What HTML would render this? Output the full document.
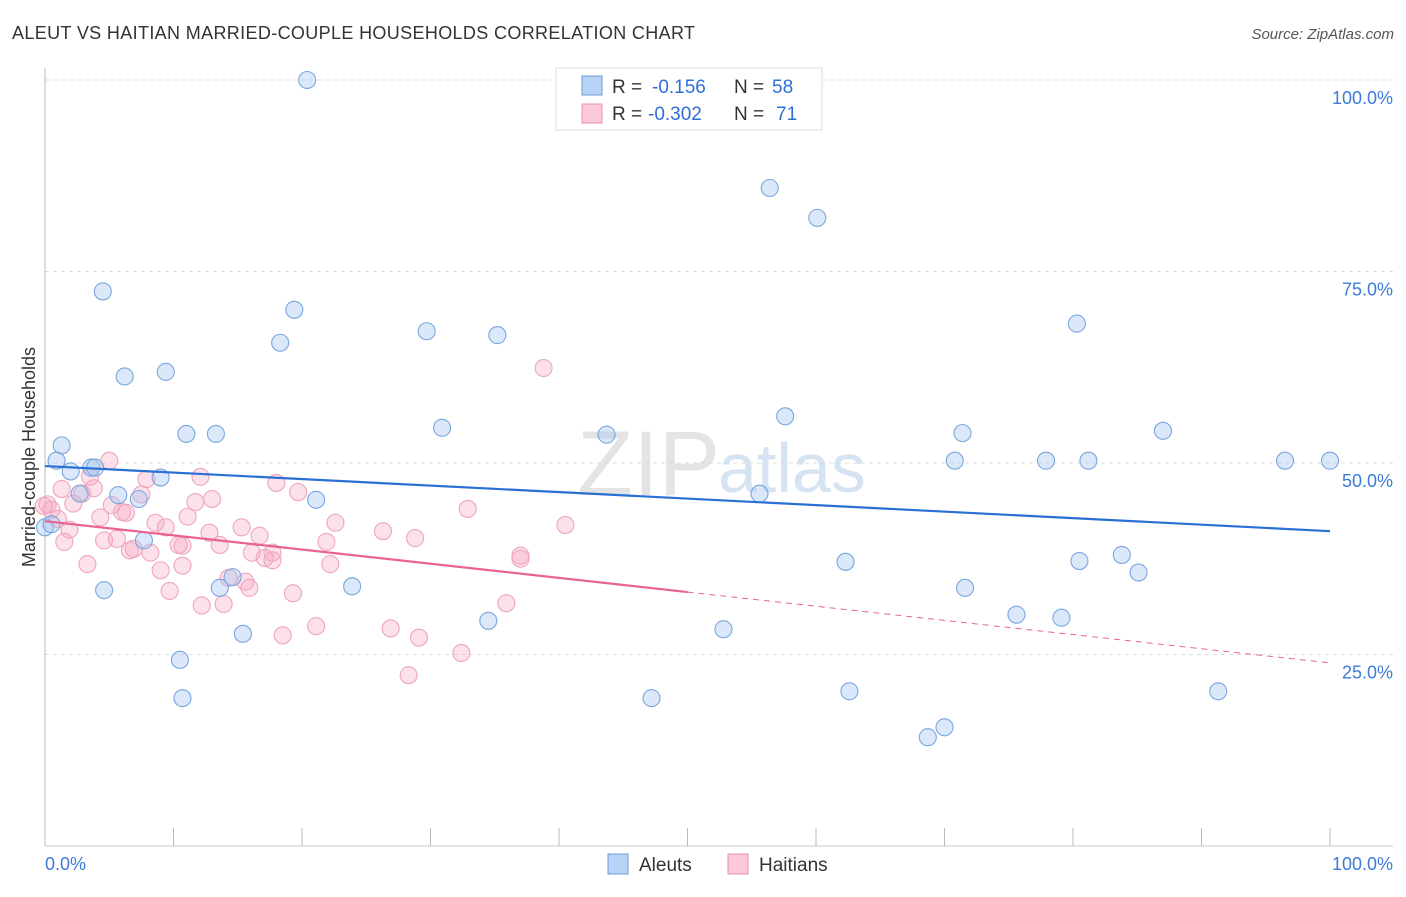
<!DOCTYPE html>
<html><head><meta charset="utf-8"><style>
body{margin:0;background:#fff;font-family:"Liberation Sans",sans-serif;}
svg text{font-family:"Liberation Sans",sans-serif;}
</style></head><body>
<svg id="c" width="1406" height="892">
<text x="12" y="39" font-size="18" fill="#333" textLength="683" lengthAdjust="spacing">ALEUT VS HAITIAN MARRIED-COUPLE HOUSEHOLDS CORRELATION CHART</text>
<text x="1394" y="39" font-size="15" fill="#555" font-style="italic" text-anchor="end">Source: ZipAtlas.com</text>
<text x="35" y="457" font-size="18" fill="#333" transform="rotate(-90 35 457)" text-anchor="middle">Married-couple Households</text>
<text x="720" y="495" font-size="92" fill="#e4e4e4" text-anchor="end" font-family="Liberation Serif">ZIP</text>
<text x="718" y="492" font-size="70" fill="#d6e3f3">atlas</text>
<g id="grid"></g><g id="pts"></g><g id="trend"></g>
<g>
<rect x="556" y="68" width="266" height="62" fill="#fff" stroke="#ddd"/>
<rect x="582" y="76" width="20" height="19" fill="#b8d3f5" stroke="#6c9bd8"/>
<rect x="582" y="104" width="20" height="19" fill="#fbc9d8" stroke="#e890ab"/>
<text x="612" y="93" font-size="19" fill="#333">R =</text>
<text x="652" y="93" font-size="19" fill="#2e6fd6">-0.156</text>
<text x="734" y="93" font-size="19" fill="#333">N =</text>
<text x="772" y="93" font-size="19" fill="#2e6fd6">58</text>
<text x="612" y="120" font-size="19" fill="#333">R =</text>
<text x="648" y="120" font-size="19" fill="#2e6fd6">-0.302</text>
<text x="734" y="120" font-size="19" fill="#333">N =</text>
<text x="776" y="120" font-size="19" fill="#2e6fd6">71</text>
</g>
<g>
<rect x="608" y="854" width="20" height="20" fill="#b8d3f5" stroke="#6c9bd8"/>
<text x="639" y="871" font-size="19" fill="#333">Aleuts</text>
<rect x="728" y="854" width="20" height="20" fill="#fbc9d8" stroke="#e890ab"/>
<text x="759" y="871" font-size="19" fill="#333">Haitians</text>
</g>
<text x="45" y="870" font-size="18" fill="#3d7bd9">0.0%</text>
<text x="1393" y="870" font-size="18" fill="#3d7bd9" text-anchor="end">100.0%</text>
</svg>
<script>
const yTicks=[25,50,75,100];
const yTickLabels=["25.0%","50.0%","75.0%","100.0%"];
const xTicks=[0,10,20,30,40,50,60,70,80,90,100];
const aleutX=[20.4,56.4,60.1,4.5,19.4,18.3,29.7,35.2,6.2,9.4,80.3,57.6,1.3,0.9,2.0,3.6,11.0,13.3,30.9,43.7,71.4,87.0,70.8,77.9,81.2,96.5,100,9.0,5.7,2.7,7.3,21.1,55.6,0,7.7,4.6,13.6,14.6,23.9,62.3,80.5,83.8,85.1,71.6,34.5,75.6,79.1,15.4,52.8,10.5,10.7,47.2,62.6,91.3,68.7,70.0,3.9,0.5];
const aleutY=[100,85.9,82.0,72.4,70.0,65.7,67.2,66.7,61.3,61.9,68.2,56.1,52.3,50.3,48.9,49.4,53.8,53.8,54.6,53.7,53.9,54.2,50.3,50.3,50.3,50.3,50.3,48.1,45.8,46.0,45.3,45.2,46.0,41.6,39.9,33.4,33.7,35.1,33.9,37.1,37.2,38.0,35.7,33.7,29.4,30.2,29.8,27.7,28.3,24.3,19.3,19.3,20.2,20.2,14.2,15.5,49.4,42.0];
const haitiX=[38.8,5.0,12.1,7.9,3.5,1.3,2.9,3.8,19.7,18.0,13.0,11.7,7.5,2.2,0.2,0.5,5.2,6.0,6.3,4.3,1.0,11.1,22.6,32.9,40.5,8.6,9.4,15.3,12.8,16.7,1.9,1.5,4.6,5.6,6.6,6.9,8.2,10.7,10.4,13.6,16.1,17.7,21.9,26.3,28.8,37.0,3.3,10.7,9.0,17.1,17.7,22.2,37.0,14.3,15.6,15.9,9.7,19.3,12.2,13.9,35.9,21.1,18.5,26.9,29.1,32.4,28.3,-0.1];
const haitiY=[62.4,50.3,48.2,47.9,48.2,46.6,46.0,46.7,46.2,47.4,45.3,44.9,45.9,44.7,44.6,43.9,44.5,43.6,43.5,42.9,42.7,43.0,42.2,44.0,41.9,42.2,41.6,41.6,40.9,40.5,41.3,39.7,39.9,40.1,38.6,38.8,38.3,39.2,39.3,39.3,38.3,38.3,39.7,41.1,40.2,37.9,36.8,36.6,36.0,37.6,37.3,36.8,37.5,35.0,34.5,33.7,33.3,33.0,31.4,31.6,31.7,28.7,27.5,28.4,27.2,25.2,22.3,44.4];
const aleutTrend=[49.6,41.1];
const haitiTrend=[42.4,23.9];
const NS="http://www.w3.org/2000/svg";
const X=v=>45+v*12.85, Y=v=>846-v*7.66;
function mk(t,a,p){const e=document.createElementNS(NS,t);for(const k in a)e.setAttribute(k,a[k]);document.getElementById(p).appendChild(e);return e;}
yTicks.forEach((t,i)=>{
 const l=mk('line',{x1:45,x2:1393,y1:Y(t),y2:Y(t),stroke:'#ddd','stroke-dasharray':'4 4'},'grid');
 
 
 const tx=mk('text',{x:1393,y:Y(t)+24,'font-size':18,fill:'#3d7bd9','text-anchor':'end'},'grid');
 tx.textContent=yTickLabels[i];
 
 
});
const ax=mk('line',{x1:45,x2:45,y1:68,y2:846,stroke:'#bbb'},'grid');


const bx=mk('line',{x1:45,x2:1393,y1:846,y2:846,stroke:'#ccc'},'grid');


xTicks.forEach(t=>{
 const l=mk('line',{x1:X(t),x2:X(t),y1:828,y2:846,stroke:'#bbb'},'grid');
 
 
});
haitiX.forEach((v,i)=>{
 const c=mk('circle',{cx:X(v),cy:Y(haitiY[i]),r:8.5,fill:'rgba(246,170,195,0.35)',stroke:'#eea5bd','stroke-width':1.1},'pts');
 
 
});
aleutX.forEach((v,i)=>{
 const c=mk('circle',{cx:X(v),cy:Y(aleutY[i]),r:8.5,fill:'rgba(160,195,240,0.38)',stroke:'#7aa6de','stroke-width':1.1},'pts');
 
 
});
const bl=mk('line',{x1:X(0),y1:Y(aleutTrend[0]),x2:X(100),y2:Y(aleutTrend[1]),stroke:'#2a6fd6','stroke-width':2.2},'trend');


const mid=haitiTrend[0]+(haitiTrend[1]-haitiTrend[0])*0.5;
const pl=mk('line',{x1:X(0),y1:Y(haitiTrend[0]),x2:X(50),y2:Y(mid),stroke:'#e8648f','stroke-width':2.2},'trend');


const pd=mk('line',{x1:X(50),y1:Y(mid),x2:X(100),y2:Y(haitiTrend[1]),stroke:'#e8648f','stroke-width':1,'stroke-dasharray':'6 5'},'trend');


</script>
</body></html>
